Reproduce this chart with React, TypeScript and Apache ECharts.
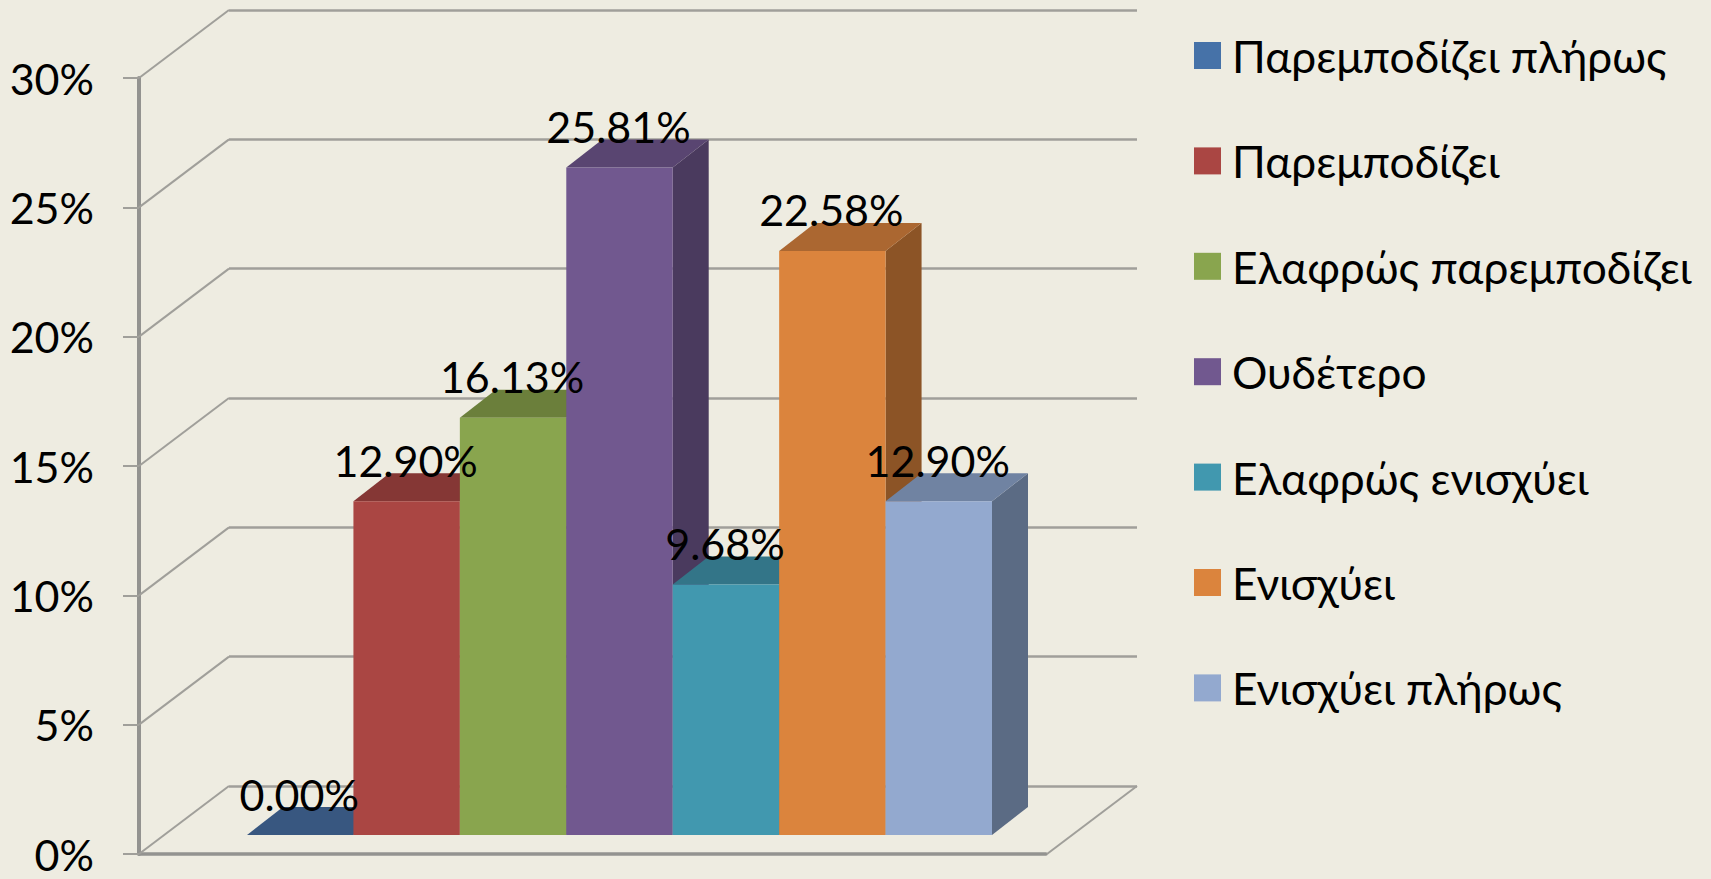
import React, { useEffect, useRef } from "react";
import * as echarts from "echarts";

const categories = ["Παρεμποδίζει πλήρως", "Παρεμποδίζει", "Ελαφρώς παρεμποδίζει", "Ουδέτερο", "Ελαφρώς ενισχύει", "Ενισχύει", "Ενισχύει πλήρως"];
const values = [0, 12.9, 16.13, 25.81, 9.68, 22.58, 12.9];
const frontColors = ["#4672A8", "#AA4643", "#89A54E", "#71588F", "#4198AF", "#DB843D", "#93A9CF"];
const topColors = ["#385780", "#853735", "#6B7F3B", "#594571", "#337588", "#AB6731", "#7083A2"];
const sideColors = ["#2F4A6D", "#6F2E2C", "#596A32", "#4A3A5E", "#2B6272", "#8C5426", "#5B6B84"];
const yTicks = [0, 5, 10, 15, 20, 25, 30];

const FONT = "Lato";
const LINE = "#A09F9A";
const DX = 36;
const DY = 28;
const WALL_DX = 90;
const WALL_DY = 68;

function barSeries(i: number) {
  return {
    type: "custom",
    name: categories[i],
    xAxisIndex: 2,
    yAxisIndex: 2,
    z: 5,
    clip: false,
    itemStyle: { color: frontColors[i] },
    data: [[i, values[i]]],
    encode: { x: 0, y: 1 },
    renderItem: (_p: any, api: any) => {
      const idx = api.value(0);
      const [cx, top] = api.coord([idx, api.value(1)]);
      const [, base] = api.coord([idx, 0]);
      const w = api.size([1, 0])[0];
      const l = cx - w / 2;
      const r = cx + w / 2;
      return {
        type: "group",
        children: [
          { type: "polygon", shape: { points: [[r, top], [r + DX, top - DY], [r + DX, base - DY], [r, base]] }, style: { fill: sideColors[i] } },
          { type: "polygon", shape: { points: [[l, top], [l + DX, top - DY], [r + DX, top - DY], [r, top]] }, style: { fill: topColors[i] } },
          { type: "rect", shape: { x: l, y: top, width: w, height: base - top }, style: { fill: frontColors[i] } },
        ],
      };
    },
  };
}

function buildOption() {
  const hiddenCat = (gridIndex: number, data: string[]) => ({
    type: "category", gridIndex, data, show: false,
  });
  return {
    animation: false,
    backgroundColor: "#EEECE1",
    grid: [
      { left: 139, top: 78, width: 907, height: 776 },
      { left: 229, top: 10, width: 908, height: 776 },
      { left: 247, top: 59, width: 745, height: 776 },
    ],
    xAxis: [
      {
        type: "category", gridIndex: 0, data: categories,
        axisLine: { show: true, lineStyle: { color: "#939390", width: 3.5 } },
        axisTick: { show: false }, axisLabel: { show: false },
      },
      { type: "value", gridIndex: 1, min: 0, max: 1, show: false },
      hiddenCat(2, categories),
    ],
    yAxis: [
      {
        type: "value", gridIndex: 0, min: 0, max: 30, interval: 5,
        axisLine: { show: true, lineStyle: { color: "#939390", width: 4 } },
        axisTick: { show: true, length: 16, lineStyle: { color: LINE, width: 2 } },
        splitLine: { show: false },
        axisLabel: {
          margin: 45, color: "#000", fontFamily: FONT, fontSize: 43, padding: [4, 0, 0, 0],
          formatter: (v: number) => `${v}%`,
        },
      },
      {
        type: "value", gridIndex: 1, min: 0, max: 30, interval: 5,
        axisLine: { show: false }, axisTick: { show: false }, axisLabel: { show: false },
        splitLine: { show: true, lineStyle: { color: LINE, width: 2.5 } },
      },
      { type: "value", gridIndex: 2, min: 0, max: 30, interval: 5, show: false },
    ],
    legend: {
      orient: "vertical", left: 1194, top: 29.5, padding: 0,
      itemWidth: 27, itemHeight: 27, itemGap: 53.4,
      icon: "rect", selectedMode: false,
      data: categories,
      textStyle: {
        color: "#000", fontFamily: FONT, fontSize: 44.3, lineHeight: 40,
        padding: [0, 0, 12, 6],
      },
    },
    series: [
      {
        type: "custom", name: "wall", xAxisIndex: 1, yAxisIndex: 1, z: 3, clip: false,
        silent: true,
        data: [...yTicks.map((t) => [0, t]), [1, 0]],
        encode: { x: 0, y: 1 },
        renderItem: (_p: any, api: any) => {
          const [x, y] = api.coord([api.value(0), api.value(1)]);
          return {
            type: "line",
            shape: { x1: x - WALL_DX, y1: y + WALL_DY, x2: x, y2: y },
            style: { stroke: LINE, lineWidth: 2, fill: "none" },
          };
        },
      },
      ...categories.map((_, i) => barSeries(i)),
      {
        type: "custom", name: "labels", xAxisIndex: 2, yAxisIndex: 2, z: 10, clip: false,
        silent: true,
        data: values.map((v, i) => [i, v]),
        encode: { x: 0, y: 1 },
        renderItem: (_p: any, api: any) => {
          const [cx, top] = api.coord([api.value(0), api.value(1)]);
          return {
            type: "text",
            style: {
              text: `${api.value(1).toFixed(2)}%`, x: cx - 1, y: top - 41,
              fill: "#000", fontFamily: FONT, fontSize: 43, align: "center", verticalAlign: "middle",
            },
          };
        },
      },
    ],
  };
}

export default function App() {
  const ref = useRef<HTMLDivElement>(null);
  useEffect(() => {
    const chart = echarts.init(ref.current!, undefined, { renderer: "svg" });
    chart.setOption(buildOption());
    return () => chart.dispose();
  }, []);
  return <div ref={ref} style={{ position: "fixed", left: 0, top: 0, width: 1711, height: 879 }} />;
}
